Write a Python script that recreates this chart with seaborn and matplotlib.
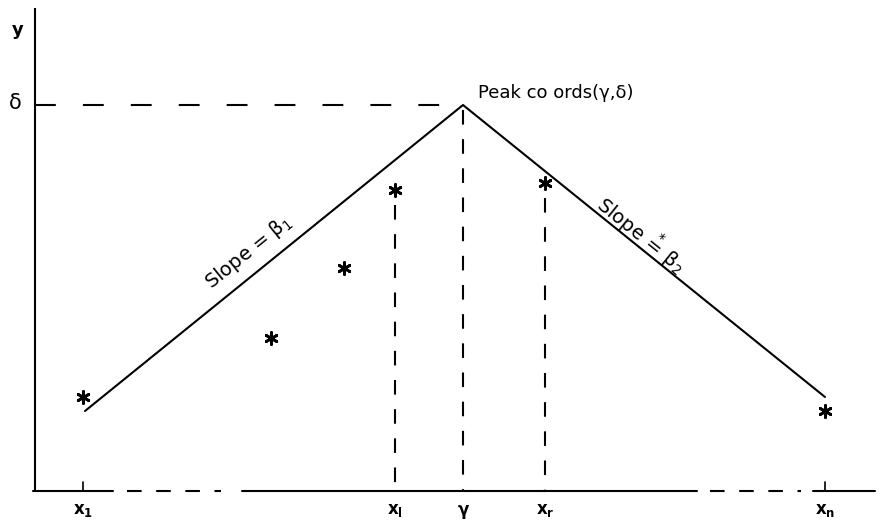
import math
import matplotlib
matplotlib.use('Agg')
import matplotlib.pyplot as plt
import seaborn as sns


obs_x = [4.8, 23.6, 30.9, 36.0, 51.0, 79.0]
obs_y = [9.4, 15.3, 22.3, 30.1, 30.8, 8.0]

# two-segment fitted line through the peak
gamma = 42.8
delta = 38.6
fit_x = [5.0, gamma, 79.0]
fit_y = [8.0, delta, 9.4]

# dashed drop lines: x position and top of each
drop_x = [36.0, gamma, 51.0]
drop_top = [28.6, 38.1, 29.3]

tick_x = [4.8, 36.0, gamma, 51.0, 79.0]
tick_labels = [r'$\mathbf{x_1}$', r'$\mathbf{x_l}$', 'γ', r'$\mathbf{x_r}$', r'$\mathbf{x_n}$']


def main() -> None:
  sns.set_style('white')
  plt.rcParams['font.family'] = ['DejaVu Sans']
  plt.rcParams['mathtext.fontset'] = 'dejavusans'
  plt.rcParams['text.color'] = 'black'

  fig = plt.figure(figsize=(8.84, 5.23), dpi=100)
  ax = fig.add_axes([0, 0, 1, 1])
  ax.set_xlim(-3.5, 84.9)
  ax.set_ylim(-3.2, 49.1)
  ax.axis('off')

  # hand-drawn style axes
  ax.plot([0, 0], [0, 48.3], color='black', lw=1.5, solid_capstyle='butt')
  for x0, x1 in [(-0.2, 7.8), (20.7, 66.2), (77.8, 84.0)]:
    ax.plot([x0, x1], [0, 0], color='black', lw=1.5)
  for x0, x1 in [(9.2, 18.6), (67.5, 76.6)]:
    ax.plot([x0, x1], [0, 0], color='black', lw=1.5, linestyle=(0, (7, 7)))
  for x in [tick_x[0], tick_x[-1]]:
    ax.plot([x, x], [0, 0.9], color='black', lw=1.2)

  # peak reference
  ax.plot([0, gamma], [delta, delta], color='black', lw=1.5, linestyle=(0, (10, 13)))
  for x, top in zip(drop_x, drop_top):
    sns.lineplot(x=[x, x], y=[top, 0], color='black', linewidth=1.5,
                 linestyle=(0, (7, 7)), sort=False, estimator=None, ax=ax)

  sns.lineplot(x=fit_x, y=fit_y, color='black', linewidth=1.5,
               sort=False, estimator=None, ax=ax)
  sns.scatterplot(x=obs_x, y=obs_y, marker=(6, 2, 0), s=75, color='black',
                  linewidth=2.0, ax=ax)

  # labels
  ax.text(-1.7, 46.1, 'y', fontsize=13, fontweight='bold', ha='center', va='center')
  ax.text(-2.0, 38.8, 'δ', fontsize=15, ha='center', va='center')
  ax.text(44.3, 39.3, 'Peak co ords(γ,δ)', fontsize=13, ha='left', va='baseline')
  for x, lab in zip(tick_x, tick_labels):
    ax.text(x, -1.9, lab, fontsize=12, fontweight='bold', ha='center', va='center')

  def angle(xa, ya, xb, yb):
    pa = ax.transData.transform((xa, ya))
    pb = ax.transData.transform((xb, yb))
    return math.degrees(math.atan2(pb[1] - pa[1], pb[0] - pa[0]))

  ax.text(21.4, 23.9, r'Slope = β$_1$', fontsize=14, ha='center', va='center',
          rotation=angle(fit_x[0], fit_y[0], fit_x[1], fit_y[1]), rotation_mode='anchor')
  ax.text(60.7, 25.8, r'Slope$\,\overset{*}{=}\,$β$_2$', fontsize=14, ha='center', va='center',
          rotation=angle(fit_x[1], fit_y[1], fit_x[2], fit_y[2]), rotation_mode='anchor')

  fig.savefig('out.png', dpi=100)


if __name__ == '__main__':
  main()
